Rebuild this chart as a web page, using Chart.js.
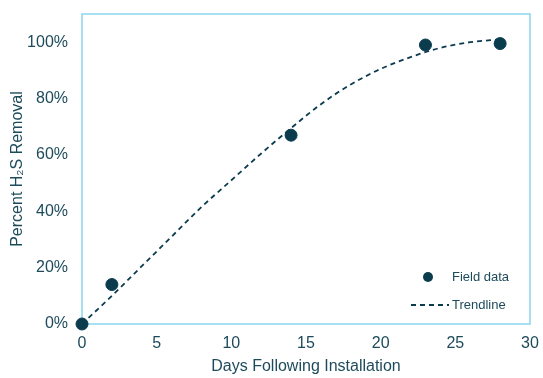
<!DOCTYPE html>
<html>
<head>
<meta charset="utf-8">
<script src="https://cdn.jsdelivr.net/npm/chart.js@4"></script>
<style>
  html, body { margin: 0; padding: 0; background: #fff; }
  #wrap { width: 543px; height: 378px; }
</style>
</head>
<body>
<div id="wrap"><canvas id="grafico" width="543" height="378"></canvas></div>
<script>
const fieldDays = [0, 2, 14, 23, 28];
const fieldRemoval = [0, 14, 67, 99, 99.5];

const trendDays = [0, 2, 4, 6, 8, 10, 12, 14, 16, 18, 20, 22, 24, 26, 28];
const trendRemoval = [0, 10, 20.5, 31, 41.5, 51, 60.5, 69.5, 78, 85, 90.5, 94.7, 98, 100, 101];

const corTexto = "#1d4b5b";
const corPonto = "#0b3c4e";
const corBorda = "#8ad6f0";
const fonte = "'Liberation Sans', Arial, sans-serif";

const molduraELegenda = {
    id: "molduraELegenda",
    beforeDatasetsDraw(chart) {
        const { ctx, chartArea: a } = chart;
        ctx.save();
        ctx.strokeStyle = corBorda;
        ctx.lineWidth = 1.5;
        ctx.strokeRect(a.left, a.top, a.right - a.left, a.bottom - a.top);
        ctx.restore();
    },
    afterDatasetsDraw(chart) {
        const { ctx, chartArea: a } = chart;
        ctx.save();
        // legenda dentro da área do gráfico
        ctx.fillStyle = corPonto;
        ctx.beginPath();
        ctx.arc(a.right - 102, a.bottom - 47, 5, 0, Math.PI * 2);
        ctx.fill();

        ctx.strokeStyle = corPonto;
        ctx.lineWidth = 2;
        ctx.setLineDash([5, 4]);
        ctx.beginPath();
        ctx.moveTo(a.right - 119, a.bottom - 19);
        ctx.lineTo(a.right - 81, a.bottom - 19);
        ctx.stroke();
        ctx.setLineDash([]);

        ctx.fillStyle = corTexto;
        ctx.font = "13px " + fonte;
        ctx.textBaseline = "middle";
        ctx.textAlign = "left";
        ctx.fillText("Field data", a.right - 78, a.bottom - 47);
        ctx.fillText("Trendline", a.right - 78, a.bottom - 19);
        ctx.restore();
    }
};

new Chart(document.getElementById("grafico"), {
    type: "scatter",
    data: {
        datasets: [
            {
                label: "Trendline",
                data: trendDays.map((d, i) => ({ x: d, y: trendRemoval[i] })),
                showLine: true,
                borderColor: corPonto,
                borderWidth: 1.8,
                borderDash: [5, 4],
                pointRadius: 0,
                cubicInterpolationMode: "monotone",
                clip: false,
                order: 2
            },
            {
                label: "Field data",
                data: fieldDays.map((d, i) => ({ x: d, y: fieldRemoval[i] })),
                backgroundColor: corPonto,
                borderColor: corPonto,
                pointRadius: 6,
                clip: false,
                order: 1
            }
        ]
    },
    options: {
        responsive: false,
        animation: false,
        layout: { padding: { top: 14, right: 13, left: 0, bottom: 0 } },
        plugins: {
            legend: { display: false },
            tooltip: { enabled: false }
        },
        scales: {
            x: {
                type: "linear",
                min: 0,
                max: 30,
                grid: { display: false, drawTicks: false },
                border: { display: false },
                ticks: {
                    stepSize: 5,
                    padding: 10,
                    color: corTexto,
                    font: { family: fonte, size: 16 }
                },
                title: {
                    display: true,
                    text: "Days Following Installation",
                    color: corTexto,
                    font: { family: fonte, size: 16 },
                    padding: { top: 0, bottom: 2 }
                },
                afterFit(scale) {
                    scale.height = 54;
                    scale.paddingLeft = 0;
                    scale.paddingRight = 0;
                }
            },
            y: {
                min: 0,
                max: 110,
                grid: { display: false, drawTicks: false },
                border: { display: false },
                afterBuildTicks(scale) {
                    scale.ticks = scale.ticks.filter(t => t.value % 20 === 0);
                },
                ticks: {
                    stepSize: 20,
                    padding: 14,
                    color: corTexto,
                    font: { family: fonte, size: 16 },
                    callback: v => v + "%"
                },
                title: {
                    display: true,
                    text: "Percent H₂S Removal",
                    color: corTexto,
                    font: { family: fonte, size: 16 },
                    padding: { top: 8, bottom: 0 }
                },
                afterFit(scale) {
                    scale.width = 82;
                    scale.paddingTop = 0;
                    scale.paddingBottom = 0;
                }
            }
        }
    },
    plugins: [molduraELegenda]
});
</script>
</body>
</html>
